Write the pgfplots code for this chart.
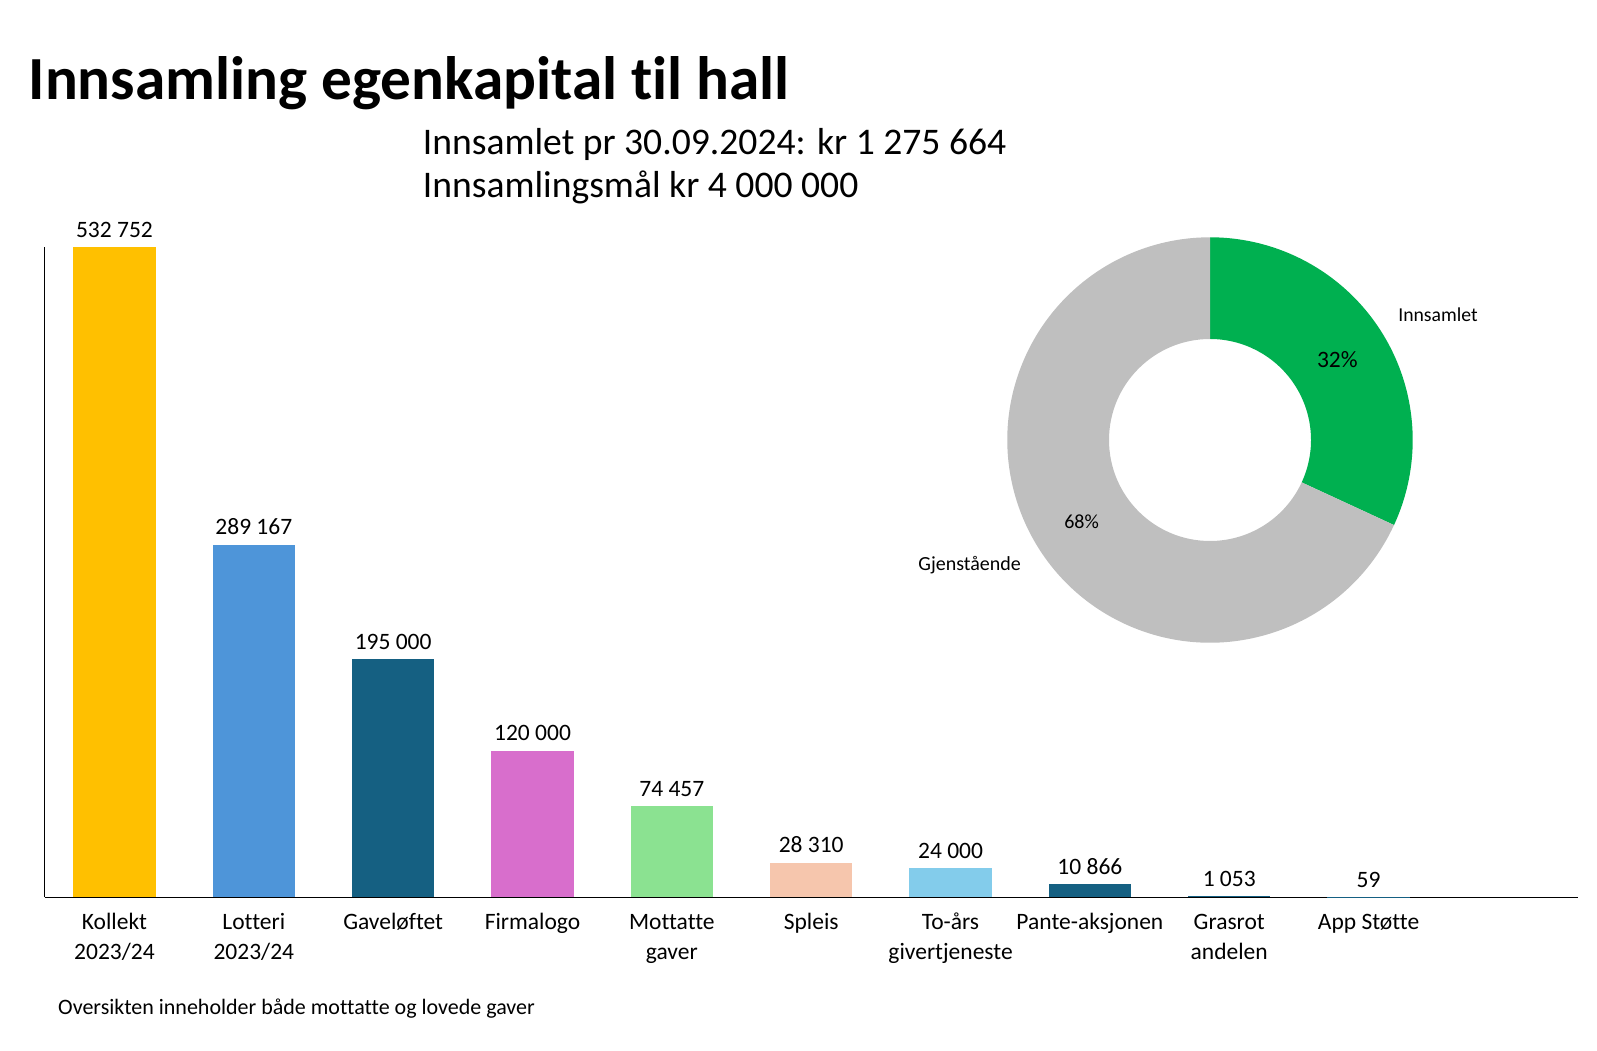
\documentclass[border=0pt]{standalone}
\usepackage{fontspec}
\setmainfont[Ligatures=NoCommon]{Carlito}
\usepackage{pgfplots}
\pgfplotsset{compat=1.18}
\definecolor{cKol}{HTML}{FFC000}
\definecolor{cLot}{HTML}{4E95D9}
\definecolor{cGav}{HTML}{156082}
\definecolor{cFir}{HTML}{D86ECC}
\definecolor{cMot}{HTML}{8BE291}
\definecolor{cSpl}{HTML}{F6C6AD}
\definecolor{cTo}{HTML}{83CCEB}
\definecolor{cGreen}{HTML}{00B050}
\definecolor{cGrey}{HTML}{BFBFBF}
\pgfplotsset{mybar/.style={fill=#1, draw=none, bar shift=0pt}}
\newcommand{\st}{\rule{0pt}{0.85em}}
\begin{document}
\begin{tikzpicture}
\useasboundingbox (0pt,0pt) rectangle (1597pt,1050pt);
\coordinate (BA) at (44.8pt,152.7pt);
\coordinate (DA) at (1210pt,610pt);
\node[anchor=base west, inner sep=0pt, font={\fontsize{61.3}{70}\selectfont\bfseries}] at (28.5pt,950.2pt) {Innsamling egenkapital til hall};
\node[anchor=base west, inner sep=0pt, font={\fontsize{37.6}{44}\selectfont}] at (422.7pt,895.2pt) {Innsamlet pr 30.09.2024: kr 1 275 664};
\node[anchor=base west, inner sep=0pt, font={\fontsize{37.6}{44}\selectfont}] at (422.7pt,852.4pt) {Innsamlingsmål kr 4 000 000};
\node[anchor=base west, inner sep=0pt, font={\fontsize{22}{26}\selectfont}] at (58pt,35.6pt) {Oversikten inneholder både mottatte og lovede gaver};
\begin{axis}[
  at={(BA)}, anchor=south west,
  width=1532.8pt, height=649.8pt, scale only axis,
  ybar, bar width=82.5pt,
  xmin=-0.5, xmax=10.5, ymin=0, ymax=532752,
  enlargelimits=false,
  axis x line*=bottom, axis y line*=left,
  axis line style={-, black, line width=1pt},
  ytick=\empty,
  xtick={0,...,9},
  xticklabels={{\st Kollekt\\2023/24},{\st Lotteri\\2023/24},{\st Gaveløftet},{\st Firmalogo},{\st Mottatte\\gaver},{\st Spleis},{\st To-års\\givertjeneste},{\st Pante-aksjonen},{\st Grasrot\\andelen},{\st App Støtte}},
  major tick length=0pt,
  xticklabel style={align=center, font={\fontsize{23.5}{30.5}\selectfont}, inner sep=0pt, yshift=-12pt},
  nodes near coords,
  nodes near coords style={font={\fontsize{23.5}{28}\selectfont}, anchor=base, inner sep=0pt, yshift=10pt},
  /pgf/number format/.cd, fixed, precision=0, 1000 sep={\ }, assume math mode=true,
]
\addplot[mybar=cKol] coordinates {(0,532752)};
\addplot[mybar=cLot] coordinates {(1,289167)};
\addplot[mybar=cGav] coordinates {(2,195000)};
\addplot[mybar=cFir] coordinates {(3,120000)};
\addplot[mybar=cMot] coordinates {(4,74457)};
\addplot[mybar=cSpl] coordinates {(5,28310)};
\addplot[mybar=cTo] coordinates {(6,24000)};
\addplot[mybar=cGav] coordinates {(7,10866)};
\addplot[mybar=cGav] coordinates {(8,1053)};
\addplot[mybar=cGav] coordinates {(9,59)};
\end{axis}
\pgfmathsetmacro{\ang}{90-360*(1.275664/4)}
\begin{axis}[
  at={(DA)}, anchor=center,
  width=405.4pt, height=405.4pt, scale only axis,
  xmin=-1, xmax=1, ymin=-1, ymax=1, hide axis, clip=false,
]
\fill[cGreen] ([shift={(90:202.7pt)}]axis cs:0,0) arc[start angle=90, end angle=\ang, radius=202.7pt]
  -- ([shift={(\ang:101pt)}]axis cs:0,0) arc[start angle=\ang, end angle=90, radius=101pt] -- cycle;
\fill[cGrey] ([shift={(\ang:202.7pt)}]axis cs:0,0) arc[start angle=\ang, end angle=-270, radius=202.7pt]
  -- ([shift={(-270:101pt)}]axis cs:0,0) arc[start angle=-270, end angle=\ang, radius=101pt] -- cycle;
\end{axis}
\node[font={\fontsize{19.7}{24}\selectfont}] at (1438pt,735.3pt) {Innsamlet};
\node[font={\fontsize{23.5}{28}\selectfont}] at (1337.3pt,690.5pt) {32\%};
\node[font={\fontsize{20}{24}\selectfont}] at (1081.6pt,528.5pt) {68\%};
\node[font={\fontsize{20}{24}\selectfont}] at (969.6pt,484.7pt) {Gjenstående};
\end{tikzpicture}
\end{document}
